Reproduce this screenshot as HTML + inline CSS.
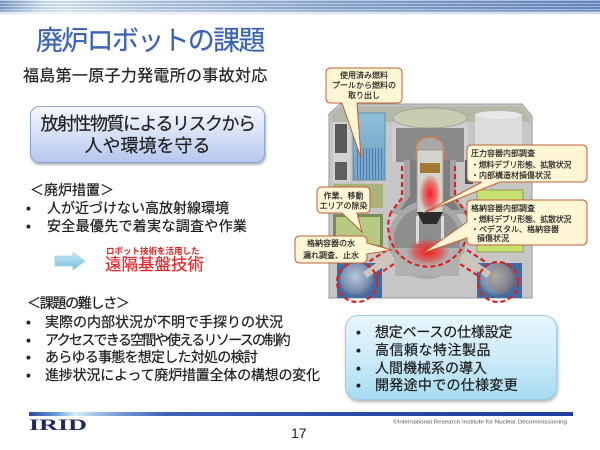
<!DOCTYPE html>
<html><head><meta charset="utf-8">
<style>
html,body{margin:0;padding:0;}
body{width:600px;height:450px;position:relative;overflow:hidden;background:#fff;font-family:"Liberation Sans","Noto Sans CJK JP",sans-serif;color:#1a1a1a;}
.t{position:absolute;white-space:nowrap;-webkit-text-stroke:0.2px currentColor;}
#topbar{position:absolute;left:0;top:0;width:600px;height:15px;
background:linear-gradient(90deg,#8aa4cc 0%,#dcecf6 7%,#e8f4fa 11%,#c4d6ea 25%,#98b2d6 55%,#7090c6 100%);}
#topbar:before{content:"";position:absolute;left:0;top:0;right:0;bottom:0;
background:repeating-linear-gradient(180deg,rgba(255,255,255,0.35) 0 1px,rgba(20,50,110,0.14) 1px 3px);}
#topbar:after{content:"";position:absolute;left:0;right:0;bottom:0;height:5px;background:linear-gradient(180deg,rgba(255,255,255,0),#fff);}
#box1{position:absolute;left:30px;top:106px;width:233px;height:55px;border-radius:9px;border:1px solid #8ca4d4;
background:linear-gradient(180deg,#f6f8fe 0%,#d6e0f6 50%,#b6c7ee 100%);box-shadow:1px 2px 2px rgba(0,0,0,0.3);}
#box2{position:absolute;left:345px;top:315px;width:210px;height:83px;border-radius:13px;border:1px solid #98cde4;
background:linear-gradient(180deg,#e8f6fd 0%,#cdebf8 50%,#a8dcf2 100%);box-shadow:1px 2px 3px rgba(0,0,0,0.3);}
#bar{position:absolute;left:29px;top:412px;width:544px;height:4px;
background:linear-gradient(90deg,#2c4ca6 0%,#6a9ad6 5%,#d5eefa 8.5%,#8cb0e0 14%,#3f62b8 25%,#2a4aa8 60%,#1f3fa0 100%);}
</style></head><body>
<div id="topbar"></div>

<div class="t" style="left:36px;top:28px;font-size:27px;line-height:27px;letter-spacing:-1.7px;color:#3a62b8;">廃炉ロボットの課題</div>
<div class="t" style="left:23px;top:68.5px;font-size:16px;line-height:16px;letter-spacing:0.3px;color:#222;">福島第一原子力発電所の事故対応</div>

<div id="box1"></div>
<div class="t" style="left:30px;width:235px;text-align:center;top:114.5px;font-size:18px;line-height:18px;letter-spacing:-1.5px;color:#222;">放射性物質によるリスクから</div>
<div class="t" style="left:30px;width:235px;text-align:center;top:136.5px;font-size:18px;line-height:18px;color:#222;">人や環境を守る</div>

<div class="t" style="left:30px;top:183px;font-size:14px;line-height:14px;">＜廃炉措置＞</div>
<div class="t" style="left:26px;top:201px;font-size:14px;line-height:14px;">•</div>
<div class="t" style="left:47px;top:201px;font-size:14px;line-height:14px;">人が近づけない高放射線環境</div>
<div class="t" style="left:26px;top:219px;font-size:14px;line-height:14px;">•</div>
<div class="t" style="left:47px;top:219px;font-size:14px;line-height:14px;letter-spacing:0.3px;">安全最優先で着実な調査や作業</div>

<svg style="position:absolute;left:0;top:0" width="600" height="450">
<defs>
<linearGradient id="ag" x1="0" y1="0" x2="0" y2="1"><stop offset="0" stop-color="#cdeaf6"/><stop offset="1" stop-color="#74bde0"/></linearGradient>
</defs>
<polygon points="55,256 73,256 73,252 85,261 73,270 73,266 55,266" fill="url(#ag)" stroke="#8cc4de" stroke-width="0.5"/>
</svg>
<div class="t" style="left:106px;top:247px;font-size:8.5px;line-height:8.5px;font-weight:bold;color:#e0201c;-webkit-text-stroke:0;">ロボット技術を活用した</div>
<div class="t" style="left:105px;top:257px;font-size:16.5px;line-height:16.5px;color:#e8262a;">遠隔基盤技術</div>

<div class="t" style="left:27px;top:296px;font-size:14px;line-height:14px;letter-spacing:-1.3px;">＜課題の難しさ＞</div>
<div class="t" style="left:26px;top:315px;font-size:14px;line-height:14px;">•</div>
<div class="t" style="left:45px;top:315px;font-size:14px;line-height:14px;">実際の内部状況が不明で手探りの状況</div>
<div class="t" style="left:26px;top:332.5px;font-size:14px;line-height:14px;">•</div>
<div class="t" style="left:45px;top:332.5px;font-size:14px;line-height:14px;letter-spacing:-1.7px;">アクセスできる空間や使えるリソースの制約</div>
<div class="t" style="left:26px;top:350px;font-size:14px;line-height:14px;">•</div>
<div class="t" style="left:45px;top:350px;font-size:14px;line-height:14px;letter-spacing:-0.75px;">あらゆる事態を想定した対処の検討</div>
<div class="t" style="left:26px;top:368px;font-size:14px;line-height:14px;">•</div>
<div class="t" style="left:45px;top:368px;font-size:14px;line-height:14px;letter-spacing:-0.2px;">進捗状況によって廃炉措置全体の構想の変化</div>

<div id="box2"></div>
<div class="t" style="left:356px;top:324.5px;font-size:14px;line-height:14px;">•</div>
<div class="t" style="left:375px;top:324.5px;font-size:14px;line-height:14px;letter-spacing:-0.2px;">想定ベースの仕様設定</div>
<div class="t" style="left:356px;top:343px;font-size:14px;line-height:14px;">•</div>
<div class="t" style="left:375px;top:343px;font-size:14px;line-height:14px;letter-spacing:0.5px;">高信頼な特注製品</div>
<div class="t" style="left:356px;top:360.5px;font-size:14px;line-height:14px;">•</div>
<div class="t" style="left:375px;top:360.5px;font-size:14px;line-height:14px;">人間機械系の導入</div>
<div class="t" style="left:356px;top:378px;font-size:14px;line-height:14px;">•</div>
<div class="t" style="left:375px;top:378px;font-size:14px;line-height:14px;letter-spacing:0.3px;">開発途中での仕様変更</div>

<!-- diagram -->
<svg style="position:absolute;left:0;top:0" width="600" height="450">
<defs>
<radialGradient id="glow1" cx="0.5" cy="0.5" r="0.5"><stop offset="0" stop-color="#ff1010" stop-opacity="0.95"/><stop offset="0.6" stop-color="#f03030" stop-opacity="0.6"/><stop offset="1" stop-color="#e04040" stop-opacity="0"/></radialGradient>
<radialGradient id="torus" cx="0.45" cy="0.4" r="0.6"><stop offset="0" stop-color="#b8c8d8"/><stop offset="0.7" stop-color="#7890b0"/><stop offset="1" stop-color="#4a6890"/></radialGradient>
<linearGradient id="pool" x1="0" y1="0" x2="0" y2="1"><stop offset="0" stop-color="#8ec0d8"/><stop offset="1" stop-color="#6a9cc4"/></linearGradient>
<pattern id="rods" width="3" height="10" patternUnits="userSpaceOnUse"><rect width="3" height="10" fill="#7aa8cc"/><rect width="1" height="10" fill="#4f7fae"/></pattern>
</defs>
<!-- building -->
<polygon points="329,114 340,104 522,104 532,116 532,298 329,298" fill="#c6c6c6" stroke="#9a9a9a" stroke-width="1"/>
<polygon points="331,114 341,106 521,106 530,117 530,122 331,122" fill="#b6b8aa"/>
<!-- left wall panels -->
<rect x="333" y="122" width="17" height="60" fill="#d2d2d2"/>
<rect x="335" y="124" width="12" height="29" fill="#5a5a5a"/>
<rect x="335" y="162" width="12" height="18" fill="#5e5e5e"/>
<!-- spent fuel pool -->
<rect x="353" y="113" width="32" height="67" fill="url(#pool)" stroke="#5f8eb2" stroke-width="1"/>
<rect x="355" y="148" width="28" height="31" fill="url(#rods)"/>
<!-- left floors -->
<rect x="333" y="184" width="50" height="24" fill="#a9b47c"/>
<rect x="333" y="214" width="50" height="34" fill="#7c8c58"/>
<rect x="336" y="217" width="44" height="28" fill="#b7c982"/>
<!-- central upper -->
<rect x="392" y="122" width="76" height="40" fill="#d0d0d0"/>
<ellipse cx="430" cy="118" rx="37" ry="10" fill="#c8ccb2" stroke="#a4a690" stroke-width="1"/>
<rect x="396" y="128" width="68" height="34" fill="#8a8a8a"/>
<!-- right upper -->
<rect x="475" y="114" width="47" height="68" fill="#dcdcdc"/>
<ellipse cx="498" cy="115" rx="23" ry="4" fill="#e8e8e8"/>
<rect x="465" y="160" width="8" height="24" fill="#555"/>
<rect x="477" y="190" width="46" height="62" fill="#c8e070" stroke="#8ea050" stroke-width="1"/>
<!-- PCV upper flask -->
<path d="M404,160 L404,198 L390,214 L470,214 L456,198 L456,160 Z" fill="#a4a4a4"/>
<path d="M410,160 L410,196 L400,210 L460,210 L450,196 L450,160 Z" fill="#7e7e7e"/>
<path d="M416,150 Q416,138 430,137 Q444,138 444,150 L444,160 L416,160 Z" fill="#a8a8a8" stroke="#c98250" stroke-width="1.5"/>
<!-- PCV bulb -->
<circle cx="427" cy="240" r="39" fill="#a8a8a8"/>
<circle cx="427" cy="240" r="33" fill="#8e8e8e"/>
<rect x="395" y="248" width="64" height="28" fill="#b0b0b0"/>
<!-- RPV -->
<rect x="417" y="150" width="26" height="66" fill="#d4d4cc" stroke="#9a9a92" stroke-width="1"/>
<rect x="420" y="163" width="20" height="10" fill="#a07a34"/>
<rect x="416" y="216" width="3" height="28" fill="#ddd"/>
<rect x="441" y="216" width="3" height="28" fill="#ddd"/>
<ellipse cx="430" cy="194" rx="11" ry="20" fill="url(#glow1)"/>
<polygon points="417,212 443,212 437,224 423,224" fill="#2a2a2a"/>
<ellipse cx="428" cy="252" rx="22" ry="14" fill="url(#glow1)"/>
<!-- bottom blue rects & tori -->
<rect x="337" y="263" width="45" height="35" fill="#3d6ca6"/>
<rect x="477" y="263" width="45" height="35" fill="#3d6ca6"/>
<circle cx="357" cy="280" r="17" fill="url(#torus)"/>
<circle cx="497" cy="280" r="17" fill="url(#torus)"/>
<circle cx="502" cy="278" r="15" fill="#a07050" opacity="0.35"/>
<!-- pipes -->
<line x1="393" y1="256" x2="365" y2="275" stroke="#cfc6b8" stroke-width="7"/>
<line x1="461" y1="256" x2="489" y2="275" stroke="#cfc6b8" stroke-width="7"/>
<!-- red dashed -->
<g fill="none" stroke="#e02020" stroke-width="2.2" stroke-dasharray="5 3">
<path d="M402,166 V198 L391,212"/>
<path d="M455,166 V198 L465,211"/>
<path d="M391,212 A40,40 0 1 0 465,211"/>
<path d="M387,250 L367,263"/>
<path d="M394,264 L374,277"/>
<path d="M467,250 L487,263"/>
<path d="M460,264 L480,277"/>
<circle cx="357" cy="282" r="20"/>
<circle cx="498" cy="282" r="20"/>
</g>
<!-- callouts -->
<g fill="#fff6d5" stroke="#c0603a" stroke-width="1">
<path d="M331,68 H397 Q402,68 402,73 V98 Q402,103 397,103 H357 L361,158 L342,103 H331 Q326,103 326,98 V73 Q326,68 331,68 Z"/>
<path d="M472,145 H582 Q587,145 587,150 V177 Q587,182 582,182 H500 L423,213 L482,182 H472 Q467,182 467,177 V150 Q467,145 472,145 Z"/>
<path d="M322,187 H365 Q370,187 370,192 V208 Q370,213 365,213 H357 L362,232 L342,213 H322 Q317,213 317,208 V192 Q317,187 322,187 Z"/>
<path d="M472,200 H582 Q587,200 587,205 V240 Q587,245 582,245 H472 Q467,245 467,240 V238 L423,253 L467,222 V205 Q467,200 472,200 Z"/>
<path d="M300,236 H362 Q367,236 367,241 V243 L392,250 L367,254 V258 Q367,263 362,263 H300 Q295,263 295,258 V241 Q295,236 300,236 Z"/>
</g>
<g font-family="Liberation Sans, Noto Sans CJK JP, sans-serif" font-size="8" fill="#1a1a1a" stroke="#1a1a1a" stroke-width="0.15">
<text x="364" y="78" text-anchor="middle">使用済み燃料</text>
<text x="364" y="88" text-anchor="middle">プールから燃料の</text>
<text x="364" y="98" text-anchor="middle">取り出し</text>
<text x="471" y="156">圧力容器内部調査</text>
<text x="471" y="167.5" letter-spacing="-0.3">・燃料デブリ形態、拡散状況</text>
<text x="471" y="178">・内部構造材損傷状況</text>
<text x="343.5" y="198.5" text-anchor="middle">作業、移動</text>
<text x="343.5" y="208.5" text-anchor="middle">エリアの除染</text>
<text x="471" y="211">格納容器内部調査</text>
<text x="471" y="222" letter-spacing="-0.3">・燃料デブリ形態、拡散状況</text>
<text x="471" y="232">・ペデスタル、格納容器</text>
<text x="477" y="241">損傷状況</text>
<text x="331" y="246" text-anchor="middle">格納容器の水</text>
<text x="331" y="258" text-anchor="middle">漏れ調査、止水</text>
</g>
</svg>

<div id="bar"></div>
<svg style="position:absolute;left:0;top:0" width="600" height="450">
<text x="29" y="430" font-family="Liberation Serif, serif" font-weight="bold" font-size="16" fill="#1e2a5e" textLength="58" lengthAdjust="spacingAndGlyphs">IRID</text>
<text x="393" y="423.5" font-family="Liberation Sans, sans-serif" font-size="5.5" fill="#555" textLength="174" lengthAdjust="spacingAndGlyphs">©International Research Institute for Nuclear Decommissioning</text>
<text x="291" y="438" font-family="Liberation Sans, sans-serif" font-size="14" fill="#222">17</text>
</svg>
</body></html>
